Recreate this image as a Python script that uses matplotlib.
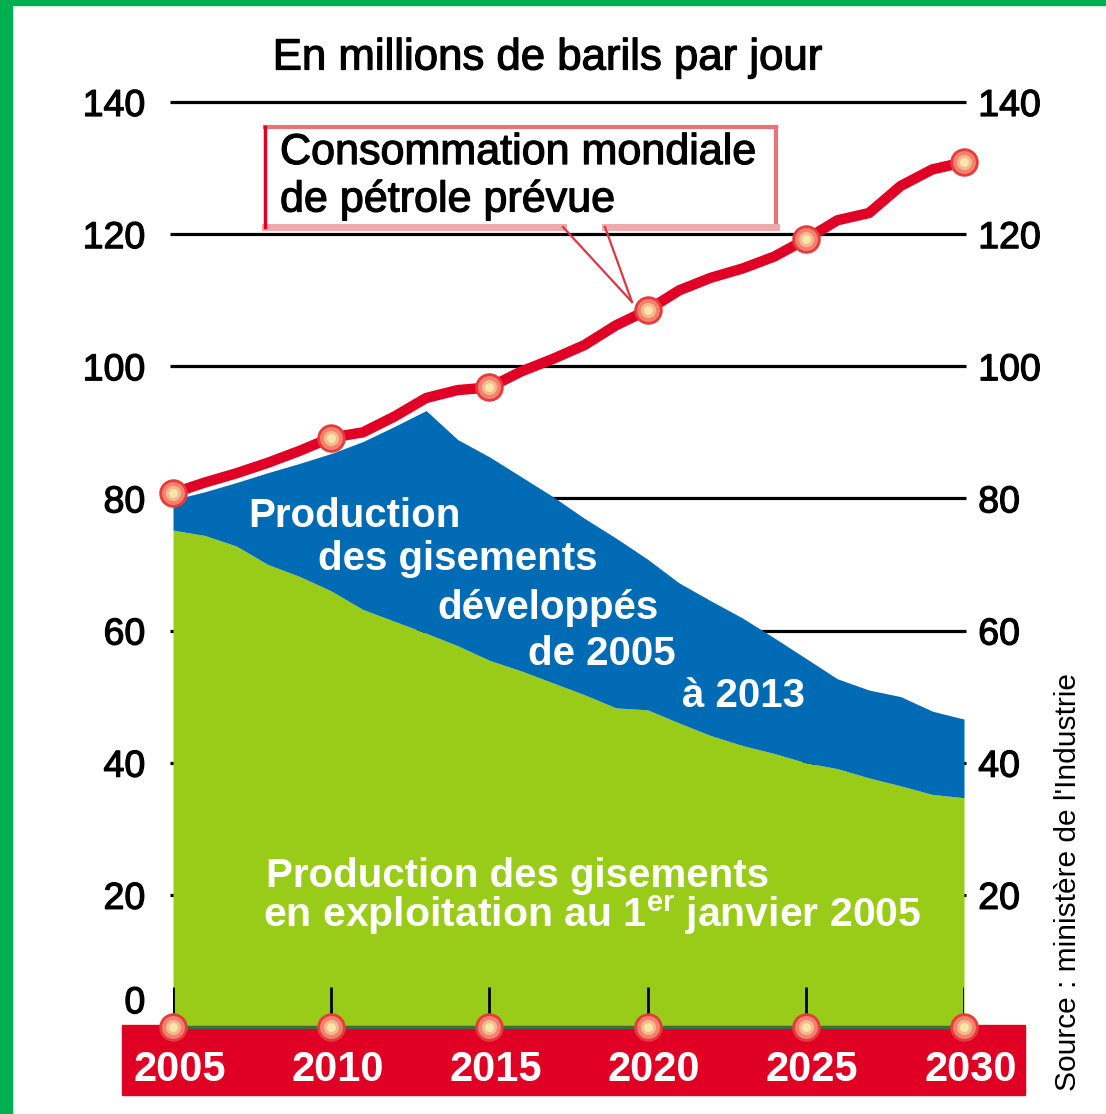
import matplotlib.pyplot as plt
import matplotlib.patheffects as pe
from matplotlib.patches import Rectangle
from matplotlib.lines import Line2D

plt.rcParams['font.family'] = ['Liberation Sans', 'DejaVu Sans']
plt.rcParams['mathtext.fontset'] = 'custom'
plt.rcParams['mathtext.rm'] = 'Liberation Sans'
plt.rcParams['mathtext.bf'] = 'Liberation Sans:bold'

# data, millions of barrels per day
years = list(range(2005, 2031))
consumption = [80.8, 82.4, 83.8, 85.4, 87.2, 89.2, 90.0, 92.4, 95.2, 96.4, 96.8,
               99.2, 101.1, 103.2, 106.2, 108.5, 111.5, 113.4, 114.8, 116.6, 119.2,
               122.1, 123.2, 127.3, 129.8, 130.9]
total_production = [79.8, 81.0, 82.4, 83.9, 85.3, 86.8, 88.6, 90.9, 93.3, 88.9, 86.3,
                    83.3, 80.3, 77.0, 74.0, 70.8, 67.2, 64.5, 61.9, 58.9, 55.8,
                    52.7, 51.0, 50.0, 47.8, 46.6]
existing_fields = [75.2, 74.4, 72.8, 70.0, 68.2, 66.0, 63.2, 61.4, 59.6, 57.7, 55.5,
                   53.9, 52.1, 50.3, 48.3, 48.0, 46.0, 44.1, 42.6, 41.4, 40.0,
                   39.1, 37.7, 36.5, 35.2, 34.7]
marker_years = [2005, 2010, 2015, 2020, 2025, 2030]
left_ticks = [0, 20, 40, 60, 80, 100, 120, 140]
right_ticks = [20, 40, 60, 80, 100, 120, 140]

GREEN = '#99cc19'
BLUE = '#006bb5'
RED = '#e00025'
BAND = '#df0024'
BORDER = '#00b050'

W, H = 1106, 1114


def fx(px):
    return px / W


def fy(py):
    return 1 - py / H


heavy = [pe.withStroke(linewidth=0.9, foreground='black')]

fig = plt.figure(figsize=(W / 100, H / 100), dpi=100)
fig.patch.set_facecolor('white')

# green frame on the left and top
fig.add_artist(Rectangle((0, 0), fx(12), 1, transform=fig.transFigure, color=BORDER, zorder=-2))
fig.add_artist(Rectangle((0, fy(5)), 1, 5 / H, transform=fig.transFigure, color=BORDER, zorder=-2))

# red band under the x axis
fig.add_artist(Rectangle((fx(122), fy(1095)), fx(1025 - 122), (1095 - 1025) / H,
                         transform=fig.transFigure, color=BAND, zorder=-1))

ax = fig.add_axes([fx(173), fy(1027), fx(964 - 173), (1027 - 102) / H])
ax.set_xlim(years[0], years[-1])
ax.set_ylim(0, 140)
ax.axis('off')

ax.hlines(right_ticks, years[0] - 0.08, years[-1] + 0.05, color='black', lw=2.3, zorder=0, clip_on=False)

ax.fill_between(years, 0, existing_fields, color=GREEN, lw=0, zorder=1)
ax.fill_between(years, existing_fields, total_production, color=BLUE, lw=0, zorder=1)
ax.plot([years[0], years[-1]], [0, 0], color='#3f6a3a', lw=2.5, zorder=2, clip_on=False)
ax.vlines(marker_years, 0, 6, color='black', lw=2, zorder=2)

ax.plot(years, consumption, color=RED, lw=7.5, solid_capstyle='round', solid_joinstyle='round',
        zorder=3, clip_on=False)

cons_marks = [consumption[years.index(y)] for y in marker_years]
for yvals in (cons_marks, [0] * len(marker_years)):
    ax.scatter(marker_years, yvals, s=20.5 ** 2, color='#e83a3c', lw=0, zorder=4, clip_on=False)
    ax.scatter(marker_years, yvals, s=16.5 ** 2, color='#f2826c', lw=0, zorder=5, clip_on=False)
    ax.scatter(marker_years, yvals, s=11 ** 2, color='#f6b891', lw=0, zorder=6, clip_on=False)
    ax.scatter(marker_years, yvals, s=6.5 ** 2, color='#f8e6aa', lw=0, zorder=6, clip_on=False)

# tick labels
ytr = ax.get_yaxis_transform()
for v in left_ticks:
    yy = 3.6 if v == 0 else v - 0.6
    ax.text(-0.035, yy, str(v), transform=ytr, ha='right', va='center', fontsize=27,
            color='black', path_effects=heavy)
for v in right_ticks:
    ax.text(1.018, v - 0.6, str(v), transform=ytr, ha='left', va='center', fontsize=27,
            color='black', path_effects=heavy)
for yr in marker_years:
    ax.text(yr + 0.2, -6.5, str(yr), ha='center', va='center', fontsize=30, fontweight='bold', color='white')

# area labels
blue_lines = [("Production", 2007.37, 77.3), ("des gisements", 2009.58, 70.8),
              ("développés", 2013.34, 63.4), ("de 2005", 2016.22, 56.5), ("à 2013", 2021.09, 50.1)]
for txt, x, y in blue_lines:
    ax.text(x, y, txt, ha='left', va='center', fontsize=29, fontweight='bold', color='white', zorder=7)
ax.text(2007.94, 22.9, "Production des gisements", ha='left', va='center', fontsize=29,
        fontweight='bold', color='white', zorder=7)
ax.text(2007.85, 16.9, "en exploitation au 1$^{\\mathbf{er}}$ janvier 2005", ha='left', va='center',
        fontsize=29.5, fontweight='bold', color='white', zorder=7)

# title and source
fig.text(fx(548), fy(58), "En millions de barils par jour", ha='center', va='center', fontsize=31.5,
         path_effects=heavy)
fig.text(fx(1068), fy(882), "Source : ministère de l'Industrie", rotation=90, ha='center', va='center',
         fontsize=21.5)

# callout box with a gap where the pointer leaves it
box_l, box_r, box_t, box_b = 265, 776, 127, 227
gap_l, gap_r = 563, 605
fig.add_artist(Rectangle((fx(box_l), fy(box_b)), fx(box_r - box_l), (box_b - box_t) / H,
                         transform=fig.transFigure, facecolor='white', lw=0, zorder=8))
edges = [([box_l, box_r], [box_t, box_t], '#e8737b', 3),
         ([box_r, box_r], [box_t, box_b], '#e8737b', 3),
         ([box_l, gap_l], [box_b, box_b], '#f0a8ac', 5),
         ([gap_r, box_r], [box_b, box_b], '#f0a8ac', 5),
         ([box_l, box_l], [box_t, box_b], RED, 2.5)]
for xs, ys, c, w in edges:
    fig.add_artist(Line2D([fx(p) for p in xs], [fy(p) for p in ys], transform=fig.transFigure,
                          color=c, lw=w, zorder=9))
for sx in (gap_l, gap_r):
    fig.add_artist(Line2D([fx(sx), fx(632)], [fy(box_b), fy(302)], transform=fig.transFigure,
                          color='#e03545', lw=1.6, zorder=9))
fig.text(fx(280), fy(153), "Consommation mondiale", ha='left', va='center', fontsize=31, zorder=10,
         path_effects=heavy)
fig.text(fx(280), fy(200), "de pétrole prévue", ha='left', va='center', fontsize=31, zorder=10,
         path_effects=heavy)

fig.savefig('out.png', dpi=100)
